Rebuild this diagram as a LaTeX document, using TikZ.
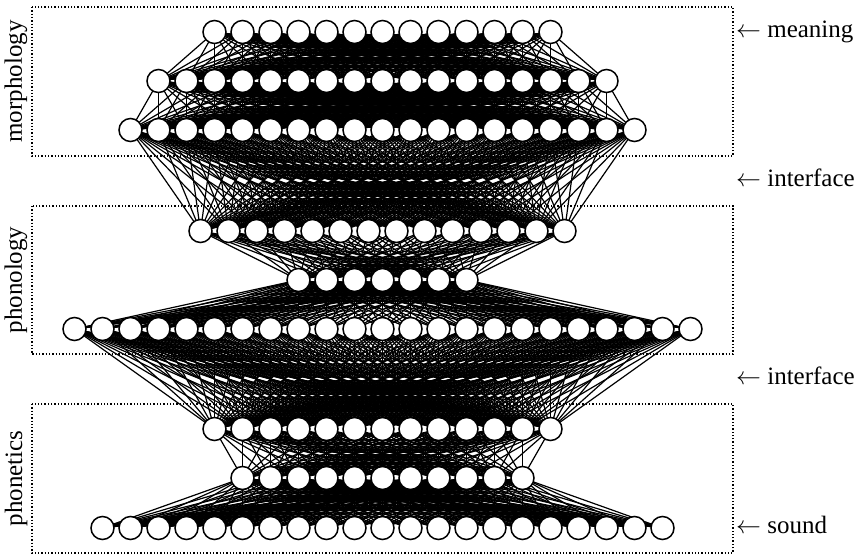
\documentclass[tikz,border=0pt]{standalone}
\usepackage{fontspec}
\setmainfont{Liberation Serif}
\usepackage{amsmath}
\usetikzlibrary{backgrounds,calc,positioning}

\tikzset{
  unit/.style={circle, draw, line width=1.5pt, fill=white, minimum size=23pt, inner sep=0pt},
  wire/.style={line width=1.2pt},
  module/.style={draw, dotted, line width=1.3pt},
  sidetext/.style={font=\fontsize{25}{30}\selectfont, inner sep=0pt},
}

\begin{document}
\begin{tikzpicture}[x=1pt,y=-1pt]
  \useasboundingbox (0,0) rectangle (856,554);

  % layers: row / number of units / height
  \foreach \r/\n/\y in {1/13/32, 2/17/81, 3/19/130, 4/14/231, 5/7/280,
                        6/23/329, 7/13/429, 8/11/478, 9/21/528} {
    \foreach \i in {1,...,\n}
      \node[unit] (u\r-\i) at ({382.5+28*(\i-(\n+1)/2)}, \y) {};
  }

  \begin{scope}[on background layer]
    \draw[module] (32,7) rectangle (733,156);
    \draw[module] (32,206) rectangle (733,354);
    \draw[module] (32,404) rectangle (733,553);

    % full connections between neighbouring rows
    \foreach \a/\na/\b/\nb in {1/13/2/17, 2/17/3/19, 3/19/4/14, 4/14/5/7,
                               5/7/6/23, 6/23/7/13, 7/13/8/11, 8/11/9/21} {
      \foreach \i in {1,...,\na}
        \foreach \j in {1,...,\nb}
          \draw[wire] (u\a-\i.center) -- (u\b-\j.center);
    }
  \end{scope}

  \node[sidetext, rotate=90] (morph) at (16,81.5) {morphology};
  \node[sidetext, rotate=90] (phonol) at (16,280) {phonology};
  \node[sidetext, rotate=90] (phonet) at (16,478.5) {phonetics};

  \node[sidetext, anchor=base west] (meaning) at (736,37.5) {$\leftarrow$ meaning};
  \node[sidetext, anchor=base west] (iface1) at (736,186.5) {$\leftarrow$ interface};
  \node[sidetext, anchor=base west] (iface2) at (736,384.5) {$\leftarrow$ interface};
  \node[sidetext, anchor=base west] (sound) at (736,533.5) {$\leftarrow$ sound};
\end{tikzpicture}
\end{document}
